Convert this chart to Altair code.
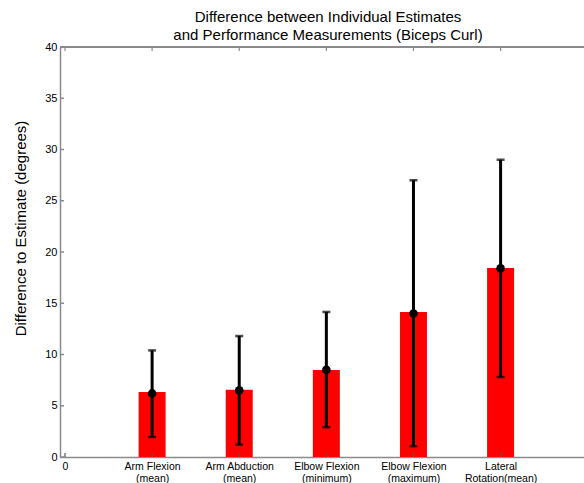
import altair as alt
import pandas as pd

# Data
categories = ["Arm Flexion|(mean)", "Arm Abduction|(mean)", "Elbow Flexion|(minimum)",
              "Elbow Flexion|(maximum)", "Lateral|Rotation(mean)"]
positions = [1, 2, 3, 4, 5]
bar_values = [6.35, 6.55, 8.5, 14.15, 18.45]
point_values = [6.2, 6.5, 8.5, 14.0, 18.4]
err_low = [1.95, 1.2, 2.9, 1.05, 7.8]
err_high = [10.4, 11.8, 14.15, 27.0, 29.0]
y_ticks = [0, 5, 10, 15, 20, 25, 30, 35, 40]
x_ticks = [0, 1, 2, 3, 4, 5]

df = pd.DataFrame({"pos": positions, "bar": bar_values, "pt": point_values,
                   "lo": err_low, "hi": err_high})
yt = pd.DataFrame({"v": y_ticks})
xt = pd.DataFrame({"v": x_ticks})

W, H = 524, 410
FONT = "Liberation Sans"
AX = "#8a8a8a"

xscale = alt.Scale(domain=[0, 5.9], nice=False, zero=False)
yscale = alt.Scale(domain=[0, 40], nice=False)

lab_arr = "[" + ",".join("'" + c + "'" for c in categories) + "]"
label_expr = "datum.value == 0 ? '0' : split(" + lab_arr + "[datum.value - 1], '|')"

xaxis = alt.Axis(values=x_ticks, tickSize=0, labelExpr=label_expr, grid=False,
                 domainColor=AX, domainWidth=1.5, labelFont=FONT, labelFontSize=10.5,
                 labelColor="black", labelPadding=4, labelLineHeight=12.5,
                 labelBaseline="top", title=None, labelFlush=False, labelOverlap=False)
yaxis = alt.Axis(values=y_ticks, tickSize=0, grid=False, domainColor=AX, domainWidth=1.5,
                 labelFont=FONT, labelFontSize=11, labelColor="black", labelPadding=3,
                 title="Difference to Estimate (degrees)", titleFont=FONT, titleFontSize=15,
                 titleFontWeight="normal", titleColor="black", titleX=-40, titleY=181,
                 titleAngle=270, titleAlign="center", titleBaseline="middle")

base = alt.Chart(df)

bars = base.mark_bar(color="#ff0000", size=27).encode(
    x=alt.X("pos:Q", scale=xscale, axis=xaxis),
    y=alt.Y("bar:Q", scale=yscale, axis=yaxis),
)

# inward ticks
ytick_rules = alt.Chart(yt).mark_rule(color=AX, strokeWidth=1.5).encode(
    x=alt.value(0), x2=alt.value(4), y=alt.Y("v:Q", scale=yscale))
xtick_bottom = alt.Chart(xt).mark_rule(color="#555555", strokeWidth=1.2).encode(
    x=alt.X("v:Q", scale=xscale), y=alt.value(H), y2=alt.value(H - 4))
xtick_top = alt.Chart(xt).mark_rule(color=AX, strokeWidth=1.2).encode(
    x=alt.X("v:Q", scale=xscale), y=alt.value(0), y2=alt.value(4))
top_line = alt.Chart(xt).mark_rule(color=AX, strokeWidth=1.5).encode(
    x=alt.value(0), x2=alt.value(W), y=alt.value(0))

err = base.mark_rule(color="black", strokeWidth=3).encode(
    x=alt.X("pos:Q", scale=xscale), y=alt.Y("lo:Q", scale=yscale), y2="hi:Q")
cap_lo = base.mark_tick(color="black", orient="horizontal", size=8, thickness=2.5).encode(
    x=alt.X("pos:Q", scale=xscale), y=alt.Y("lo:Q", scale=yscale))
cap_hi = base.mark_tick(color="black", orient="horizontal", size=8, thickness=2.5).encode(
    x=alt.X("pos:Q", scale=xscale), y=alt.Y("hi:Q", scale=yscale))
dots = base.mark_circle(color="black", opacity=1, size=75).encode(
    x=alt.X("pos:Q", scale=xscale), y=alt.Y("pt:Q", scale=yscale))

chart = alt.layer(bars, ytick_rules, xtick_bottom, xtick_top, top_line,
                  err, cap_lo, cap_hi, dots).properties(
    width=W, height=H,
    title=alt.TitleParams(
        text=["Difference between Individual Estimates",
              "and Performance Measurements (Biceps Curl)"],
        font=FONT, fontSize=15, fontWeight="normal", color="black",
        anchor="middle", dx=6, offset=-2, lineHeight=18),
    autosize=alt.AutoSizeParams(type="none"),
    padding={"left": 60, "top": 47, "right": 0, "bottom": 26},
).configure_view(stroke=None).configure(background="white")

chart.save("out.html", embed_options={"renderer": "svg", "actions": False})
